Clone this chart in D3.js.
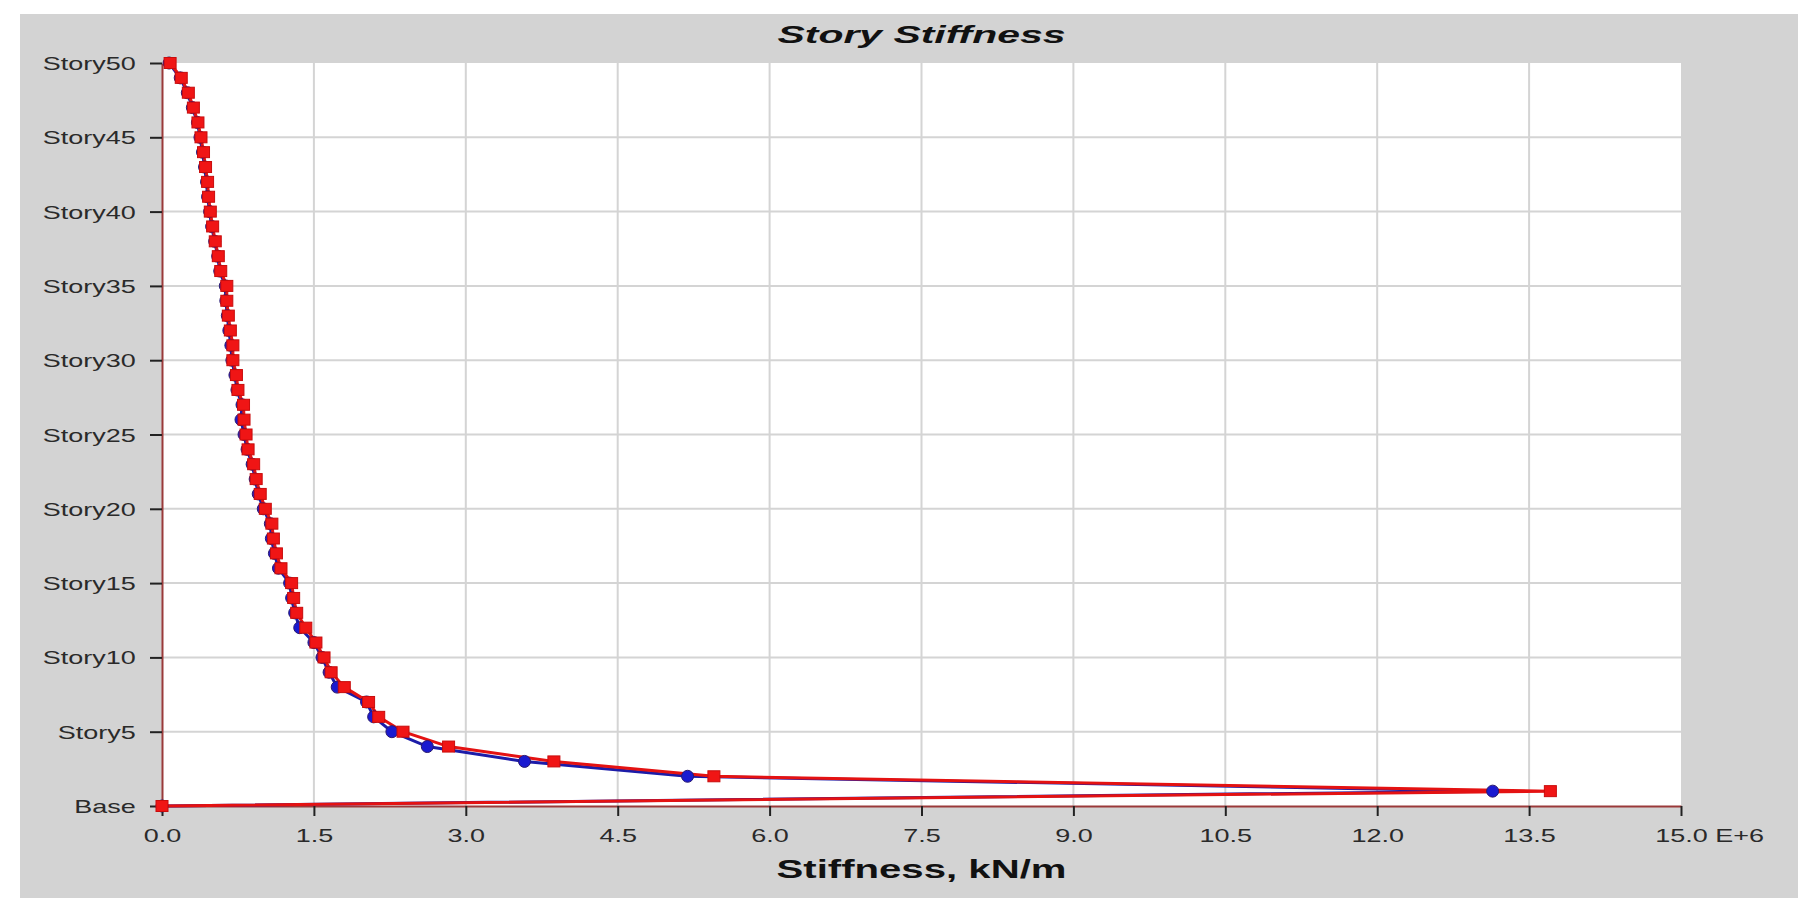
<!DOCTYPE html>
<html>
<head>
<meta charset="utf-8">
<script src="https://cdn.jsdelivr.net/npm/d3@7"></script>
<style>
body { margin: 0; background: #fff; }
text { font-family: Arial, "Liberation Sans", sans-serif; }
</style>
</head>
<body>
<script>
// story levels, Base = 0 .. Story50 = 50
var stories = d3.range(0, 51);
var storyTicks = [0, 5, 10, 15, 20, 25, 30, 35, 40, 45, 50];
var xTicks = [0, 1.5, 3.0, 4.5, 6.0, 7.5, 9.0, 10.5, 12.0, 13.5, 15.0];

// stiffness in E+6 kN/m, Base first then Story1..Story50
var stiffBlue = [0,
	13.14, 5.19, 3.58, 2.62, 2.27, 2.09, 2.02, 1.73, 1.65, 1.58,
	1.50, 1.36, 1.31, 1.28, 1.26, 1.15, 1.11, 1.08, 1.07, 1.00,
	0.95, 0.92, 0.89, 0.84, 0.81, 0.78, 0.79, 0.74, 0.72, 0.69,
	0.68, 0.66, 0.645, 0.63, 0.625, 0.57, 0.55, 0.52, 0.49, 0.47,
	0.45, 0.44, 0.42, 0.40, 0.375, 0.35, 0.30, 0.25, 0.18, 0.07];
var stiffRed = [0,
	13.71, 5.45, 3.87, 2.83, 2.38, 2.14, 2.04, 1.80, 1.67, 1.60,
	1.52, 1.42, 1.33, 1.30, 1.28, 1.175, 1.13, 1.10, 1.085, 1.02,
	0.97, 0.93, 0.905, 0.85, 0.83, 0.81, 0.805, 0.75, 0.735, 0.70,
	0.70, 0.675, 0.655, 0.64, 0.64, 0.58, 0.556, 0.526, 0.50, 0.477,
	0.46, 0.45, 0.43, 0.41, 0.385, 0.355, 0.31, 0.26, 0.19, 0.08];

var w = 1819, h = 920;
var pLeft = 162, pRight = 1681, pTop = 63, pBottom = 806;
var sx = 1.5; // the picture is stretched sideways

var svg = d3.select('body').append('svg').attr('width', w).attr('height', h);

svg.append('rect').attr('x', 20).attr('y', 14).attr('width', 1778).attr('height', 884).attr('fill', '#d3d3d3');
svg.append('rect').attr('x', pLeft).attr('y', pTop).attr('width', pRight - pLeft).attr('height', pBottom - pTop).attr('fill', '#fff');

var x = d3.scaleLinear().domain([0, 15]).range([pLeft, pRight]);
var y = d3.scaleLinear().domain([0, 50]).range([pBottom, pTop]);

// grid
svg.append('g').selectAll('line').data(xTicks.slice(1, -1)).enter().append('line')
	.attr('x1', function(d) { return x(d); }).attr('x2', function(d) { return x(d); })
	.attr('y1', pTop).attr('y2', pBottom)
	.attr('stroke', '#d4d4d4').attr('stroke-width', 2);
svg.append('g').selectAll('line').data(storyTicks.slice(1, -1)).enter().append('line')
	.attr('x1', pLeft).attr('x2', pRight)
	.attr('y1', function(d) { return y(d); }).attr('y2', function(d) { return y(d); })
	.attr('stroke', '#d4d4d4').attr('stroke-width', 2);

// axes
var xAxis = svg.append('g').attr('transform', 'translate(0,' + pBottom + ')')
	.call(d3.axisBottom(x).tickValues(xTicks).tickSize(10).tickSizeOuter(0)
		.tickFormat(function(d) { return d.toFixed(1); }));
xAxis.selectAll('text').attr('y', 36).attr('dy', 0)
	.attr('font-size', 18).attr('fill', '#2a2a2a')
	.attr('transform', 'scale(' + sx + ',1)');
xAxis.selectAll('.tick').filter(function(d) { return d === 15; }).select('text')
	.attr('text-anchor', 'start').attr('x', -17.5).text('15.0 E+6');

var yAxis = svg.append('g').attr('transform', 'translate(' + pLeft + ',0)')
	.call(d3.axisLeft(y).tickValues(storyTicks).tickSize(12).tickSizeOuter(0)
		.tickFormat(function(d) { return d === 0 ? 'Base' : 'Story' + d; }));
yAxis.selectAll('text').attr('x', -17.5).attr('dy', 6.5)
	.attr('font-size', 18).attr('fill', '#2a2a2a')
	.attr('transform', 'scale(' + sx + ',1)');

svg.selectAll('.tick line').attr('stroke', '#222').attr('stroke-width', 2);
svg.selectAll('.domain').attr('stroke', '#9a3a3a').attr('stroke-width', 2);

// series
var line = function(vals) {
	return d3.line().x(function(d) { return x(vals[d]); }).y(function(d) { return y(d); })(stories);
};
svg.append('path').attr('d', line(stiffBlue)).attr('fill', 'none').attr('stroke', '#1c1ca8').attr('stroke-width', 3);
svg.append('path').attr('d', line(stiffRed)).attr('fill', 'none').attr('stroke', '#e41212').attr('stroke-width', 3);

svg.append('g').selectAll('circle').data(stories).enter().append('circle')
	.attr('cx', function(d) { return x(stiffBlue[d]); })
	.attr('cy', function(d) { return y(d); })
	.attr('r', 6).attr('fill', '#1a1ad0').attr('stroke', '#2a1a70').attr('stroke-width', 1);
svg.append('g').selectAll('rect').data(stories).enter().append('rect')
	.attr('x', function(d) { return x(stiffRed[d]) - 6; })
	.attr('y', function(d) { return y(d) - 5.5; })
	.attr('width', 12).attr('height', 11)
	.attr('fill', '#f01515').attr('stroke', '#c80c0c').attr('stroke-width', 1);

// titles
svg.append('text').attr('x', (pLeft + pRight) / 2).attr('y', 43)
	.attr('text-anchor', 'middle').attr('font-size', 23).attr('font-weight', 'bold').attr('font-style', 'italic')
	.attr('fill', '#111').attr('textLength', 288).attr('lengthAdjust', 'spacingAndGlyphs')
	.text('Story Stiffness');
svg.append('text').attr('x', (pLeft + pRight) / 2).attr('y', 878)
	.attr('text-anchor', 'middle').attr('font-size', 25).attr('font-weight', 'bold')
	.attr('fill', '#111').attr('textLength', 290).attr('lengthAdjust', 'spacingAndGlyphs')
	.text('Stiffness, kN/m');
</script>
</body>
</html>
